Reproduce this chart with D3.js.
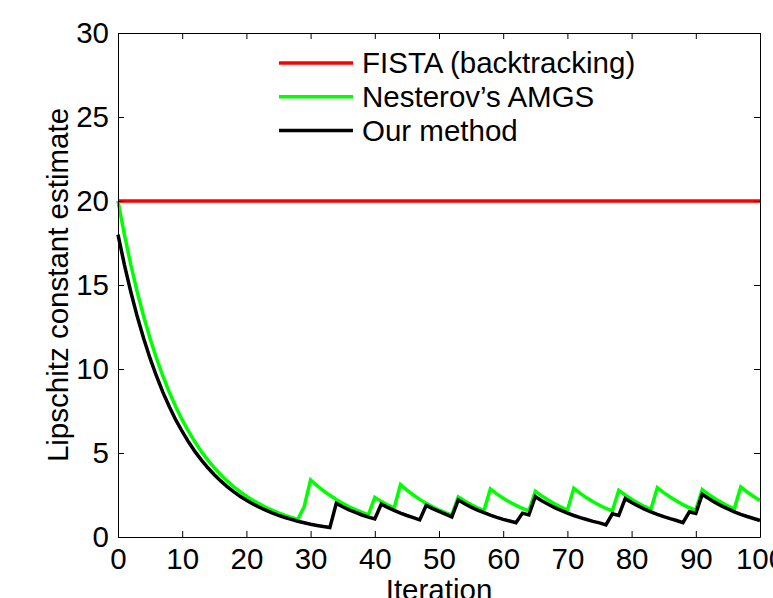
<!DOCTYPE html>
<html>
<head>
<meta charset="utf-8">
<script src="https://cdn.jsdelivr.net/npm/d3@7"></script>
<style>
  html, body { margin: 0; padding: 0; background: #fff; }
  svg { display: block; font-family: "Liberation Sans", Arial, Helvetica, sans-serif; }
</style>
</head>
<body>
<div id="chart"></div>
<script>
// data (one value per iteration, 0..100)
const iterations = d3.range(0, 101);

const fistaValues = iterations.map(() => 20);

const amgsValues = [
  20, 18, 16.2, 14.58, 13.12, 11.81, 10.63, 9.57, 8.61, 7.75,
  6.97, 6.28, 5.65, 5.08, 4.58, 4.12, 3.71, 3.34, 3.0, 2.7,
  2.43, 2.19, 1.97, 1.77, 1.6, 1.44, 1.29, 1.16, 1.05, 1.8,
  3.4, 3.06, 2.75, 2.48, 2.23, 2.0, 1.8, 1.63, 1.46, 1.32,
  2.36, 2.12, 1.91, 1.72, 3.12, 2.79, 2.5, 2.24, 2.0, 1.8,
  1.61, 1.45, 1.3, 2.38, 2.14, 1.93, 1.74, 1.58, 2.86, 2.57,
  2.31, 2.08, 1.88, 1.7, 1.56, 2.72, 2.45, 2.2, 1.98, 1.78,
  1.6, 2.9, 2.6, 2.33, 2.1, 1.89, 1.7, 1.55, 2.78, 2.5,
  2.25, 2.03, 1.82, 1.64, 2.93, 2.64, 2.38, 2.14, 1.93, 1.74,
  1.6, 2.82, 2.54, 2.28, 2.06, 1.85, 1.68, 2.98, 2.68, 2.41,
  2.17,
];

const ourValues = [
  18, 16.2, 14.58, 13.12, 11.81, 10.63, 9.57, 8.61, 7.75, 6.97,
  6.28, 5.65, 5.08, 4.58, 4.12, 3.71, 3.34, 3.0, 2.7, 2.43,
  2.19, 1.97, 1.77, 1.6, 1.44, 1.29, 1.16, 1.05, 0.94, 0.85,
  0.76, 0.69, 0.62, 0.56, 2.0, 1.8, 1.62, 1.46, 1.31, 1.18,
  1.08, 1.95, 1.76, 1.58, 1.42, 1.28, 1.15, 1.02, 1.88, 1.69,
  1.52, 1.36, 1.2, 2.2, 1.98, 1.78, 1.6, 1.45, 1.3, 1.17,
  1.05, 0.95, 0.85, 1.42, 1.32, 2.4, 2.16, 1.95, 1.75, 1.58,
  1.42, 1.28, 1.15, 1.04, 0.93, 0.84, 0.72, 1.38, 1.28, 2.28,
  2.05, 1.85, 1.66, 1.5, 1.35, 1.21, 1.09, 0.98, 0.86, 1.5,
  1.4, 2.54, 2.29, 2.06, 1.85, 1.67, 1.5, 1.35, 1.22, 1.1,
  0.98,
];

const seriesNames = ['FISTA (backtracking)', 'Nesterov\u2019s AMGS', 'Our method'];
const seriesColors = ['#ff0000', '#00ff00', '#000000'];

const xTicks = [0, 10, 20, 30, 40, 50, 60, 70, 80, 90, 100];
const yTicks = [0, 5, 10, 15, 20, 25, 30];

const width = 773;
const height = 598;
const plot = { left: 118, right: 760, top: 33, bottom: 537 };
const fontSize = 29.5;

const svg = d3.select('#chart')
  .append('svg')
  .attr('width', width)
  .attr('height', height)
  .attr('viewBox', [0, 0, width, height]);

const x = d3.scaleLinear().domain([0, 100]).range([plot.left, plot.right]);
const y = d3.scaleLinear().domain([0, 30]).range([plot.bottom, plot.top]);

// series
const series = [fistaValues, amgsValues, ourValues].map((values, i) => ({
  name: seriesNames[i],
  color: seriesColors[i],
  points: iterations.map((it, j) => [it, values[j]]),
}));

const line = d3.line()
  .x((d) => x(d[0]))
  .y((d) => y(d[1]));

svg.append('g')
  .attr('class', 'lines')
  .attr('fill', 'none')
  .attr('stroke-linejoin', 'miter')
  .selectAll('path')
  .data(series)
  .join('path')
  .attr('stroke', (d) => d.color)
  .attr('stroke-width', 3.5)
  .attr('d', (d) => line(d.points));

// axes, drawn as a box with inward ticks
const styleAxis = (g) => {
  g.select('.domain').attr('stroke', '#000').attr('stroke-width', 1);
  g.selectAll('.tick line').attr('stroke', '#000');
  g.selectAll('.tick text')
    .attr('fill', '#000')
    .style('font-size', `${fontSize}px`);
};

svg.append('g')
  .attr('transform', `translate(0,${plot.bottom})`)
  .call(d3.axisBottom(x).tickValues(xTicks).tickSizeInner(-6).tickSizeOuter(0).tickPadding(11))
  .call(styleAxis);

svg.append('g')
  .attr('transform', `translate(0,${plot.top})`)
  .call(d3.axisTop(x).tickValues(xTicks).tickSizeInner(-6).tickSizeOuter(0).tickFormat(''))
  .call(styleAxis);

svg.append('g')
  .attr('transform', `translate(${plot.left},0)`)
  .call(d3.axisLeft(y).tickValues(yTicks).tickSizeInner(-6).tickSizeOuter(0).tickPadding(9))
  .call(styleAxis);

svg.append('g')
  .attr('transform', `translate(${plot.right},0)`)
  .call(d3.axisRight(y).tickValues(yTicks).tickSizeInner(-6).tickSizeOuter(0).tickFormat(''))
  .call(styleAxis);

// axis titles
svg.append('text')
  .attr('x', (plot.left + plot.right) / 2)
  .attr('y', 600)
  .attr('text-anchor', 'middle')
  .style('font-size', `${fontSize}px`)
  .text('Iteration');

svg.append('text')
  .attr('transform', `translate(68,${(plot.top + plot.bottom) / 2}) rotate(-90)`)
  .attr('text-anchor', 'middle')
  .style('font-size', `${fontSize}px`)
  .text('Lipschitz constant estimate');

// legend
const legend = svg.append('g')
  .attr('class', 'legend')
  .attr('transform', 'translate(279,63)')
  .selectAll('g')
  .data(series)
  .join('g')
  .attr('transform', (d, i) => `translate(0,${i * 33.7})`);

legend.append('line')
  .attr('x1', 0)
  .attr('x2', 74)
  .attr('stroke', (d) => d.color)
  .attr('stroke-width', 3.5);

legend.append('text')
  .attr('x', 83)
  .attr('dy', '0.35em')
  .style('font-size', `${fontSize}px`)
  .text((d) => d.name);
</script>
</body>
</html>
